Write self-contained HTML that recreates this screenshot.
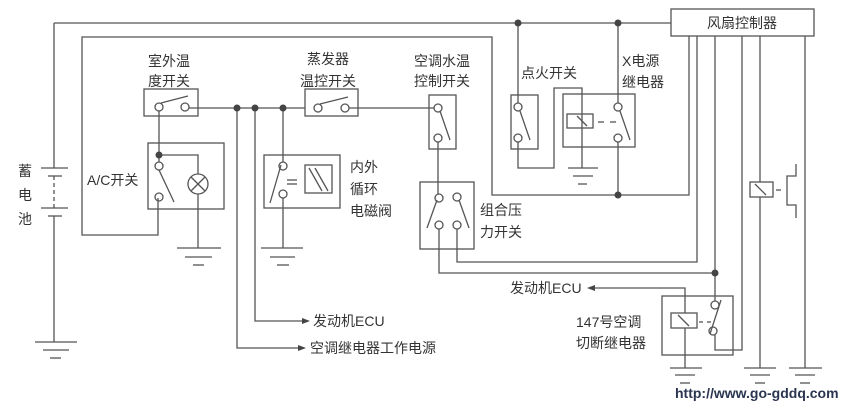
<!DOCTYPE html>
<html><head><meta charset="utf-8"><style>
html,body{margin:0;padding:0;background:#fff;}
svg{display:block;}
text{font-family:"Liberation Sans","Noto Sans CJK SC",sans-serif;font-size:14px;fill:#333;}
</style></head><body>
<svg width="854" height="408" viewBox="0 0 854 408" xmlns="http://www.w3.org/2000/svg">
<g stroke="#555" stroke-width="1.3" fill="none">
<!-- top line and battery -->
<polyline points="54,23 671,23"/>
<line x1="54" y1="23" x2="54" y2="168"/>
<line x1="41" y1="168" x2="68" y2="168"/><line x1="48" y1="176" x2="62" y2="176"/>
<line x1="54" y1="176" x2="54" y2="208" stroke-dasharray="4,3"/>
<line x1="41" y1="208" x2="68" y2="208"/><line x1="48" y1="216" x2="62" y2="216"/>
<line x1="54" y1="216" x2="54" y2="342"/>
<line x1="35" y1="342" x2="77" y2="342"/><line x1="43" y1="350" x2="69" y2="350"/><line x1="50" y1="358" x2="61" y2="358"/>
<!-- fan controller box -->
<rect x="671" y="9" width="143" height="27"/>
<!-- second loop -->
<polyline points="158,198 158,235 82,235 82,37 492,37 492,195 689,195 689,36"/>
<!-- outdoor temp switch -->
<rect x="144" y="89" width="54" height="27"/>
<circle cx="159" cy="107" r="4"/><circle cx="185" cy="107" r="4"/>
<line x1="161" y1="103" x2="188" y2="96"/>
<line x1="189" y1="108" x2="305" y2="108"/>
<!-- evaporator switch -->
<rect x="305" y="89" width="53" height="27"/>
<circle cx="318" cy="108" r="4"/><circle cx="345" cy="108" r="4"/>
<line x1="320" y1="104" x2="348" y2="97"/>
<line x1="349" y1="108" x2="434" y2="108"/>
<!-- A/C switch -->
<rect x="148" y="143" width="76" height="66"/>
<line x1="159" y1="111" x2="159" y2="162"/>
<polyline points="159,155 198,155 198,174"/>
<circle cx="159" cy="166" r="4"/><circle cx="159" cy="197" r="4"/>
<line x1="159" y1="170" x2="174" y2="202"/>
<circle cx="198" cy="184" r="10"/>
<line x1="191" y1="177" x2="205" y2="191"/><line x1="205" y1="177" x2="191" y2="191"/>
<line x1="198" y1="194" x2="198" y2="248"/>
<line x1="177" y1="248" x2="221" y2="248"/><line x1="185" y1="257" x2="212" y2="257"/><line x1="193" y1="265" x2="204" y2="265"/>
<!-- branch lines -->
<polyline points="237,108 237,348 300,348"/>
<polyline points="255,108 255,321 304,321"/>
<!-- circulation valve -->
<rect x="264" y="155" width="76" height="53"/>
<line x1="283" y1="108" x2="283" y2="162"/>
<circle cx="283" cy="166" r="4"/><circle cx="283" cy="194" r="4"/>
<line x1="281" y1="165" x2="270" y2="203"/>
<line x1="287" y1="180" x2="297" y2="180"/><line x1="287" y1="184" x2="297" y2="184"/>
<rect x="305" y="165" width="27" height="28"/>
<line x1="309" y1="168" x2="322" y2="191"/><line x1="315" y1="168" x2="328" y2="191"/>
<line x1="283" y1="198" x2="283" y2="248"/>
<line x1="261" y1="248" x2="303" y2="248"/><line x1="270" y1="257" x2="295" y2="257"/><line x1="277" y1="265" x2="289" y2="265"/>
<!-- coolant switch -->
<rect x="429" y="95" width="27" height="54"/>
<circle cx="438" cy="108" r="4"/><circle cx="438" cy="138" r="4"/>
<line x1="440" y1="111" x2="450" y2="140"/>
<line x1="438" y1="142" x2="438" y2="194"/>
<!-- pressure switch -->
<rect x="420" y="182" width="54" height="67"/>
<circle cx="439" cy="198" r="4"/><circle cx="457" cy="197" r="4"/>
<circle cx="439" cy="225" r="4"/><circle cx="457" cy="225" r="4"/>
<line x1="437" y1="200" x2="427" y2="228"/><line x1="459" y1="200" x2="469" y2="228"/>
<polyline points="439,229 439,273 715,273"/>
<polyline points="457,229 457,262 697,262 697,36"/>
<!-- ignition switch -->
<rect x="511" y="95" width="27" height="54"/>
<line x1="518" y1="23" x2="518" y2="103"/>
<circle cx="518" cy="107" r="4"/><circle cx="518" cy="138" r="4"/>
<line x1="520" y1="111" x2="530" y2="140"/>
<polyline points="518,142 518,168 554,168 554,88 582,88 582,168"/>
<line x1="568" y1="168" x2="598" y2="168"/><line x1="573" y1="176" x2="593" y2="176"/><line x1="578" y1="184" x2="587" y2="184"/>
<!-- X relay -->
<rect x="563" y="94" width="72" height="53"/>
<rect x="567" y="114" width="26" height="14"/>
<line x1="577" y1="116" x2="587" y2="126"/>
<line x1="598" y1="122" x2="604" y2="122"/><line x1="610" y1="122" x2="616" y2="122"/>
<line x1="618" y1="23" x2="618" y2="103"/>
<circle cx="618" cy="107" r="4"/><circle cx="618" cy="138" r="4"/>
<line x1="620" y1="111" x2="630" y2="140"/>
<line x1="618" y1="142" x2="618" y2="195"/>
<!-- controller outputs -->
<line x1="715" y1="36" x2="715" y2="301"/>
<polyline points="742,36 742,350 715,350 715,335"/>
<line x1="760" y1="36" x2="760" y2="368"/>
<line x1="805" y1="36" x2="805" y2="368"/>
<rect x="750" y="182" width="23" height="15" fill="#fff"/>
<line x1="755" y1="184" x2="766" y2="195"/>
<line x1="776" y1="190" x2="781" y2="190"/>
<polyline points="796,164 796,176 787,176 787,205 796,205 796,218"/>
<line x1="744" y1="368" x2="776" y2="368"/><line x1="750" y1="375" x2="770" y2="375"/><line x1="755" y1="383" x2="765" y2="383"/>
<line x1="789" y1="368" x2="822" y2="368"/><line x1="795" y1="375" x2="815" y2="375"/><line x1="800" y1="383" x2="810" y2="383"/>
<!-- 147 relay -->
<rect x="662" y="296" width="71" height="59"/>
<polyline points="593,288 685,288 685,368"/>
<rect x="671" y="313" width="26" height="15" fill="#fff"/>
<line x1="678" y1="315" x2="689" y2="326"/>
<line x1="699" y1="322" x2="703" y2="322"/><line x1="707" y1="322" x2="711" y2="322"/>
<circle cx="715" cy="305" r="4"/><circle cx="713" cy="331" r="4"/>
<line x1="721" y1="300" x2="710" y2="334"/>
<line x1="670" y1="368" x2="702" y2="368"/><line x1="675" y1="375" x2="695" y2="375"/><line x1="680" y1="383" x2="690" y2="383"/>
</g>
<!-- arrowheads -->
<g fill="#444">
<polygon points="306,348 298,345 298,351"/>
<polygon points="310,321 302,318 302,324"/>
<polygon points="587,288 595,285 595,291"/>
</g>
<!-- dots -->
<g fill="#444">
<circle cx="237" cy="108" r="3.5"/><circle cx="255" cy="108" r="3.5"/><circle cx="283" cy="108" r="3.5"/>
<circle cx="159" cy="155" r="3.5"/>
<circle cx="518" cy="23" r="3.5"/><circle cx="618" cy="23" r="3.5"/><circle cx="618" cy="195" r="3.5"/>
<circle cx="715" cy="273" r="3.5"/>
</g>
<!-- labels -->
<text x="742" y="28" text-anchor="middle" font-size="15">风扇控制器</text>
<text x="18" y="176">蓄</text><text x="18" y="200">电</text><text x="18" y="224">池</text>
<text x="148" y="66">室外温</text><text x="148" y="86">度开关</text>
<text x="307" y="64">蒸发器</text><text x="300" y="86">温控开关</text>
<text x="414" y="66">空调水温</text><text x="414" y="86">控制开关</text>
<text x="521" y="78">点火开关</text>
<text x="622" y="66">X电源</text><text x="622" y="87">继电器</text>
<text x="87" y="185" font-size="13">A/C开关</text>
<text x="350" y="172">内外</text><text x="350" y="194">循环</text><text x="350" y="216">电磁阀</text>
<text x="480" y="215">组合压</text><text x="480" y="237">力开关</text>
<text x="313" y="326">发动机ECU</text>
<text x="310" y="353">空调继电器工作电源</text>
<text x="510" y="293">发动机ECU</text>
<text x="576" y="327">147号空调</text><text x="576" y="348">切断继电器</text>
<text x="675" y="398" font-size="13" font-weight="bold" style="fill:#2a3550">http://www.go-gddq.com</text>
</svg>
</body></html>
